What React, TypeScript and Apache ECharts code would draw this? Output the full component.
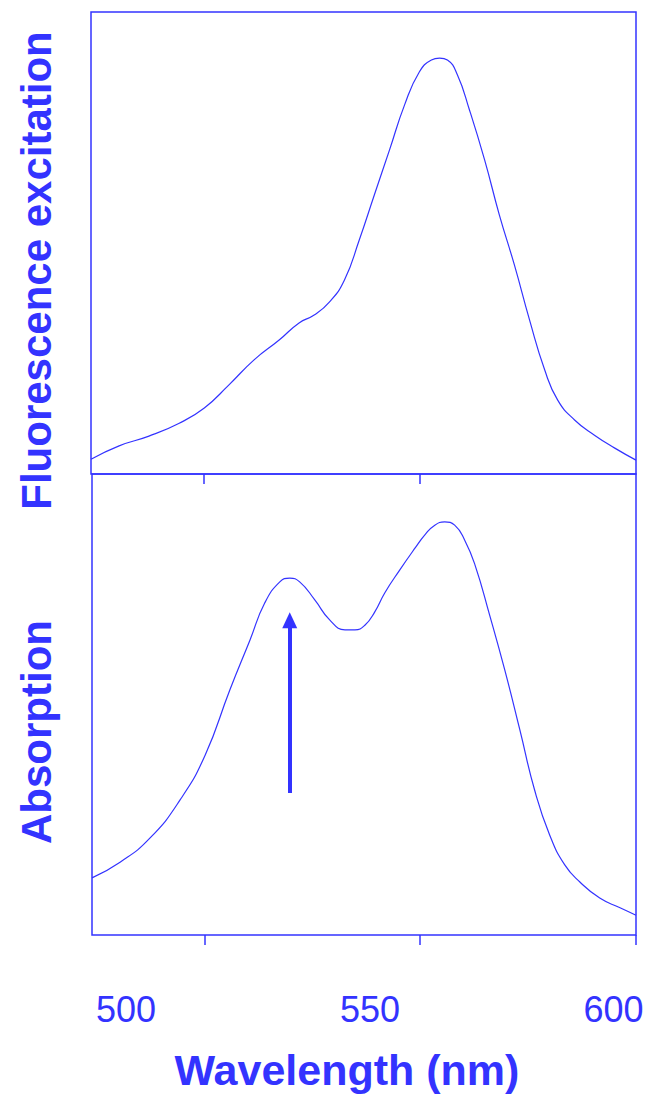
import { useEffect, useRef } from 'react';
import * as echarts from 'echarts';

// Fluorescence excitation spectrum (top panel)
const excitationNm = [474, 480.5, 487.4, 494.4, 500.2, 505.9, 511.7, 517.5, 522.1, 525.6, 529.1, 532.6, 536.0, 539.5, 543.0, 546.5, 549.9, 552.7, 554.6, 556.4, 558.7, 561.5, 565.0, 568.4, 571.9, 575.4, 578.9, 581.9, 585.8, 590.4, 595.1, 600];
const excitation = [3.2, 6.1, 8.2, 11.0, 14.3, 19.3, 24.7, 29.0, 32.7, 34.4, 37.2, 42.0, 50.6, 60.4, 70.1, 79.9, 87.0, 89.6, 90.0, 89.6, 86.4, 78.8, 68.0, 56.1, 45.2, 33.3, 22.5, 16.0, 11.7, 8.4, 5.6, 3.0];

// Absorption spectrum (bottom panel)
const absorptionNm = [474, 480.5, 487.4, 494.4, 500.2, 505.9, 510.6, 514.0, 517.5, 519.8, 522.1, 525.6, 529.1, 532.6, 534.9, 537.2, 539.5, 541.8, 545.3, 548.8, 551.1, 553.4, 555.7, 558.0, 560.3, 562.7, 566.1, 569.6, 573.1, 576.5, 580.0, 583.5, 587.0, 591.6, 596.3, 600];
const absorption = [12.4, 15.8, 21.0, 29.3, 39.0, 53.1, 64.0, 72.0, 76.6, 77.4, 76.6, 72.7, 68.3, 66.2, 66.2, 67.2, 70.1, 74.2, 79.2, 83.9, 86.8, 88.9, 89.6, 88.9, 85.7, 80.3, 69.4, 57.5, 44.5, 31.5, 21.7, 15.2, 11.5, 8.0, 5.9, 4.3];

const tickValues = [500, 550, 600];
const tickLabels = ['500', '550', '600'];

// Arrow annotation (wavelength, from value, to value) on absorption panel
const arrowNm = 519.8;
const arrowFrom = 30.8;
const arrowTo = 68.3;

export default function App() {
  const ref = useRef<HTMLDivElement>(null);
  useEffect(() => {
    const chart = echarts.init(ref.current!, null, { renderer: 'svg' });
    const blue = '#3333ff';
    const font = '"Liberation Sans", Arial, Helvetica, sans-serif';
    const labelAt = [481.9, 538.4, 594.8];
    const nearestLabel = (v: number) => {
      let best = 0;
      labelAt.forEach((p, i) => {
        if (Math.abs(p - v) < Math.abs(labelAt[best] - v)) best = i;
      });
      return tickLabels[best];
    };
    const lineSeries = (xs: number[], ys: number[], idx: number) => ({
      type: 'line',
      xAxisIndex: idx,
      yAxisIndex: idx,
      data: xs.map((x, i) => [x, ys[i]]),
      symbol: 'none',
      showSymbol: false,
      smooth: 0.5,
      silent: true,
      lineStyle: { color: blue, width: 1.2 },
    });
    const absSeries: any = lineSeries(absorptionNm, absorption, 1);
    absSeries.markLine = {
      silent: true,
      symbol: ['none', 'triangle'],
      symbolSize: [15, 16],
      label: { show: false },
      lineStyle: { color: blue, width: 4, type: 'solid' },
      data: [[{ coord: [arrowNm, arrowFrom] }, { coord: [arrowNm, arrowTo] }]],
    };
    const titleStyle = (text: string) => ({
      text,
      fill: blue,
      fontSize: 42,
      fontWeight: 'bold',
      fontFamily: font,
      align: 'center',
      verticalAlign: 'middle',
      textAlign: 'center',
      textVerticalAlign: 'middle',
    });
    chart.setOption({
      animation: false,
      backgroundColor: '#ffffff',
      grid: [
        { left: 91, top: 12, width: 545, height: 462, show: true, borderColor: blue, borderWidth: 1.5, backgroundColor: 'transparent' },
        { left: 92, top: 474, width: 544, height: 461, show: true, borderColor: blue, borderWidth: 1.5, backgroundColor: 'transparent' },
      ],
      xAxis: [
        {
          gridIndex: 0, type: 'value', min: 474, max: 600,
          axisLine: { show: false }, splitLine: { show: false },
          axisTick: { show: true, customValues: [500, 550], length: 10, inside: false, lineStyle: { color: blue, width: 1.5 } },
          axisLabel: { show: false },
        },
        {
          gridIndex: 1, type: 'value', min: 474, max: 600,
          axisLine: { show: false }, splitLine: { show: false },
          axisTick: { show: true, customValues: tickValues, length: 10, inside: false, lineStyle: { color: blue, width: 1.5 } },
          axisLabel: {
            show: true, customValues: labelAt, formatter: (v: number) => nearestLabel(v),
            margin: 56, color: blue, fontSize: 36, fontFamily: font,
            showMinLabel: true, showMaxLabel: true, hideOverlap: false,
          },
        },
      ],
      yAxis: [
        { gridIndex: 0, type: 'value', min: 0, max: 100, show: false },
        { gridIndex: 1, type: 'value', min: 0, max: 100, show: false },
      ],
      series: [lineSeries(excitationNm, excitation, 0), absSeries],
      graphic: [
        { type: 'text', x: 347, y: 1070, style: { ...titleStyle('Wavelength (nm)'), fontSize: 43 } },
        { type: 'text', x: 36, y: 270.5, rotation: Math.PI / 2, style: titleStyle('Fluorescence excitation') },
        { type: 'text', x: 36, y: 732, rotation: Math.PI / 2, style: titleStyle('Absorption') },
      ],
    });
    return () => chart.dispose();
  }, []);
  return <div ref={ref} style={{ position: 'absolute', left: 0, top: 0, width: 647, height: 1094 }} />;
}
